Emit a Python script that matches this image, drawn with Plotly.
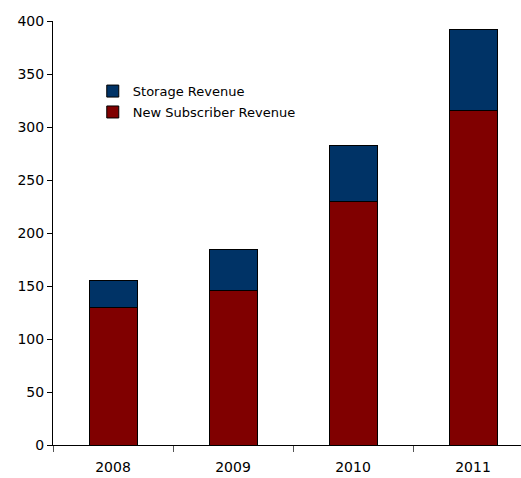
import plotly.graph_objects as go

years = ["2008", "2009", "2010", "2011"]
new_subscriber = [130, 146, 230, 316]
storage = [25, 38, 53, 76]
y_ticks = [0, 50, 100, 150, 200, 250, 300, 350, 400]

font = dict(family="DejaVu Sans", size=14, color="#000000")

fig = go.Figure()
fig.add_trace(go.Bar(
    x=years, y=new_subscriber, name="New Subscriber Revenue",
    marker=dict(color="#800000", line=dict(color="#000000", width=1)),
    width=0.4, legendgroup="a", legendrank=2,
))
fig.add_trace(go.Bar(
    x=years, y=storage, name="Storage Revenue",
    marker=dict(color="#003366", line=dict(color="#000000", width=1)),
    width=0.4, legendgroup="b", legendrank=1,
))

fig.update_layout(
    barmode="stack",
    width=521, height=478,
    margin=dict(l=53, r=0, t=21, b=33, autoexpand=False),
    plot_bgcolor="#ffffff", paper_bgcolor="#ffffff",
    font=font,
    showlegend=True,
    legend=dict(
        x=0.085, y=0.87, xanchor="left", yanchor="top",
        traceorder="grouped", tracegroupgap=1,
        bgcolor="rgba(0,0,0,0)", font=dict(family="DejaVu Sans", size=13, color="#000000"),
        itemwidth=30,
    ),
    xaxis=dict(
        type="category", range=[-0.5, 3.4],
        showline=True, linecolor="#000000", linewidth=1,
        ticks="outside", ticklen=6, tickcolor="#555555",
        tickson="boundaries", ticklabelstandoff=9,
        showgrid=False, zeroline=False, automargin=False,
        tickfont=font,
    ),
    yaxis=dict(
        range=[0, 400], tickvals=y_ticks,
        showline=True, linecolor="#000000", linewidth=1,
        ticks="outside", ticklen=5, tickcolor="#000000",
        showgrid=False, zeroline=False, automargin=False,
        tickfont=font,
    ),
)

fig.write_html(
    "out.html",
    config={"displayModeBar": False},
    post_script="document.body.style.margin='0';document.body.style.overflow='hidden';",
)
